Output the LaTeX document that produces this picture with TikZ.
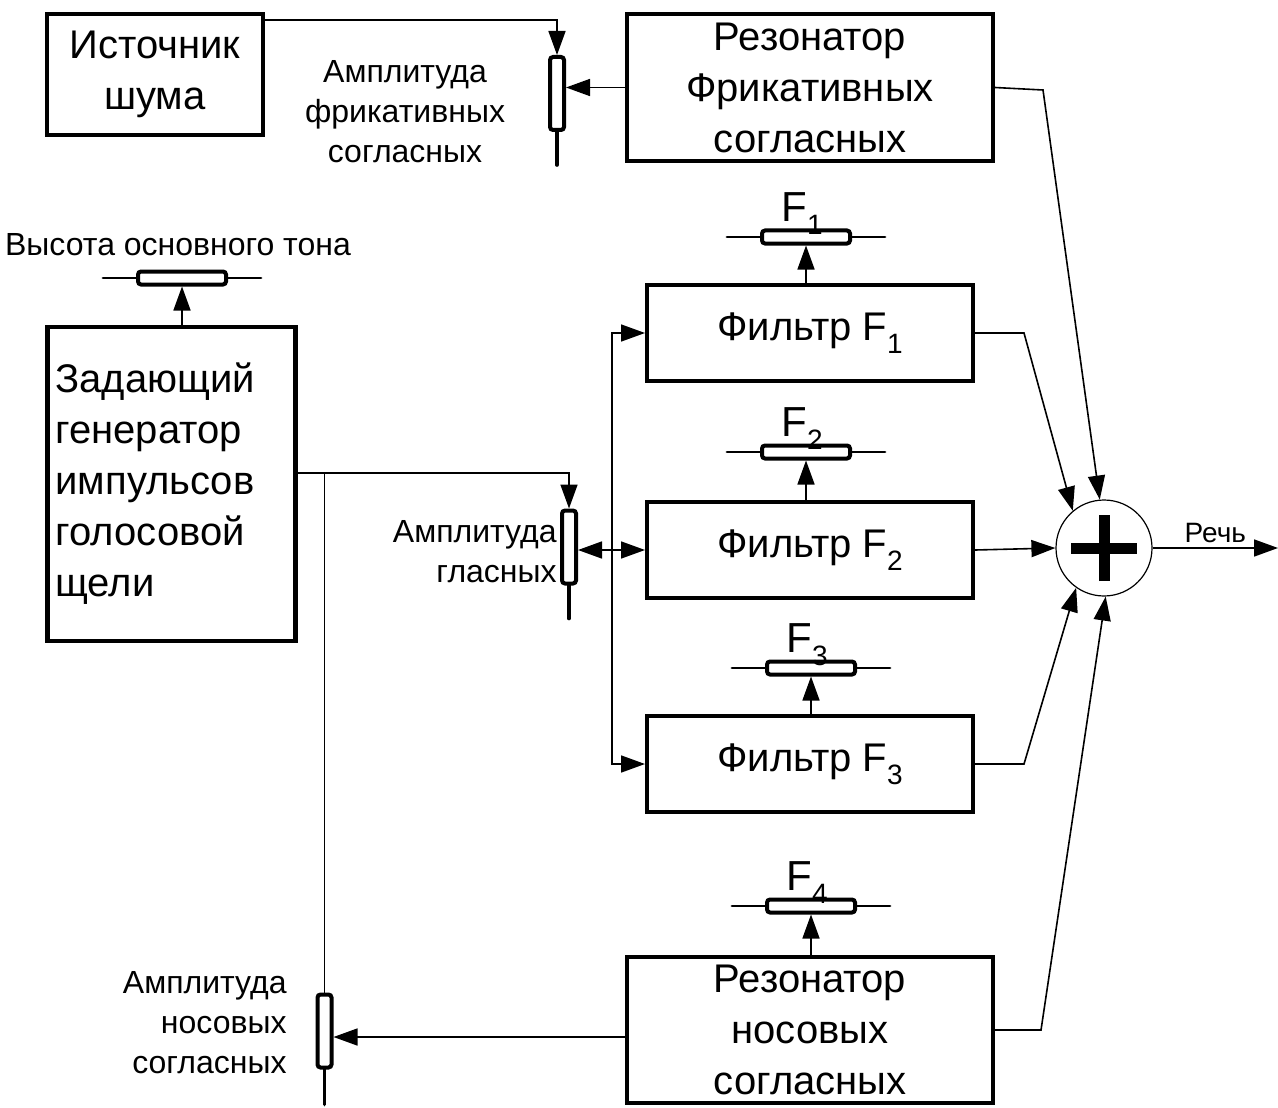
\documentclass[tikz,border=0pt]{standalone}
\usepackage{fontspec}
\setmainfont{Liberation Sans}
\usetikzlibrary{arrows.meta,positioning}
\newcommand{\subidx}[1]{\raisebox{-0.6ex}{\fontsize{14}{14}\selectfont #1}}
\tikzset{
  blockbox/.style={draw, line width=2.2pt, inner sep=3pt, align=center,
    font=\fontsize{20}{25.5}\selectfont},
  potv/.style={draw, line width=2pt, rounded corners=1.5pt, fill=white,
    inner sep=0pt, minimum width=7pt, minimum height=36.5pt},
  poth/.style={draw, line width=2pt, rounded corners=1.5pt, fill=white,
    inner sep=0pt, minimum width=44pt, minimum height=6.5pt},
  potlead/.style={line width=1.4pt, line cap=round},
  potstem/.style={line width=1.8pt, line cap=round},
  sigline/.style={line width=0.8pt},
  sigarrow/.style={line width=0.8pt, -{Triangle[length=12pt, width=8.5pt]}},
  smalllabel/.style={font=\fontsize{16}{20}\selectfont, inner sep=0pt},
  flabel/.style={font=\fontsize{21}{21}\selectfont, inner sep=0pt, anchor=base},
  adder/.style={circle, draw, line width=0.6pt, minimum size=48pt, inner sep=0pt},
}

\begin{document}
\begin{tikzpicture}[x=0.5pt, y=-0.5pt]
  \useasboundingbox[fill=white] (0,0) rectangle (1278,1107);

  % blocks
  \node[blockbox, minimum width=107.8pt, minimum height=60.3pt] (noise) at (155,74.5)
    {Источник\\шума};
  \node[blockbox, minimum width=182.8pt, minimum height=73.3pt] (fricres) at (810,87.5)
    {Резонатор\\Фрикативных\\согласных};
  \node[blockbox, align=left, inner xsep=4pt, text width=116pt, minimum height=156.8pt] (gen) at (171.5,484)
    {Задающий\\генератор\\импульсов\\голосовой\\щели};
  \node[blockbox, minimum width=162.8pt, minimum height=47.8pt] (f1) at (810,333) {Фильтр F\subidx{1}};
  \node[blockbox, minimum width=162.8pt, minimum height=47.8pt] (f2) at (810,550) {Фильтр F\subidx{2}};
  \node[blockbox, minimum width=162.8pt, minimum height=47.8pt] (f3) at (810,764) {Фильтр F\subidx{3}};
  \node[blockbox, minimum width=182.8pt, minimum height=72.8pt] (nasres) at (810,1030)
    {Резонатор\\носовых\\согласных};
  \node[adder] (sum) at (1104,548) {};
  \draw[line width=5.5pt] ([xshift=-16.5pt]sum.center) -- ([xshift=16.5pt]sum.center);
  \draw[line width=5.5pt] ([yshift=-16.5pt]sum.center) -- ([yshift=16.5pt]sum.center);

  % potentiometers
  \node[potv] (potfric) at (557,93.5) {};
  \node[potv] (potvow) at (569,547) {};
  \node[potv] (potnas) at (324.5,1031) {};
  \draw[potstem] (potfric.south) -- ++(0,33);
  \draw[potstem] (potvow.south) -- ++(0,33);
  \draw[potstem] (potnas.south) -- ++(0,35);
  \node[poth] (potpitch) at (182,278) {};
  \node[poth] (potf1) at (806,237) {};
  \node[poth] (potf2) at (806,452) {};
  \node[poth] (potf3) at (811,668) {};
  \node[poth] (potf4) at (811,906) {};
  \foreach \p in {potpitch,potf1,potf2,potf3,potf4}{
    \draw[potlead] (\p.west) -- ++(-33,0);
    \draw[potlead] (\p.east) -- ++(33,0);
  }
  \node[flabel] (lblf1) at ([xshift=-2pt, yshift=3.5pt]potf1.north) {F\subidx{1}};
  \node[flabel] (lblf2) at ([xshift=-2pt, yshift=3.5pt]potf2.north) {F\subidx{2}};
  \node[flabel] (lblf3) at ([xshift=-2pt, yshift=3.5pt]potf3.north) {F\subidx{3}};
  \node[flabel] (lblf4) at ([xshift=-2pt, yshift=3.5pt]potf4.north) {F\subidx{4}};

  % labels
  \node[smalllabel] (lblpitch) at (178,245) {Высота основного тона};
  \node[smalllabel, align=center] (lblfric) at (405,112) {Амплитуда\\фрикативных\\согласных};
  \node[smalllabel, align=right, anchor=east] (lblvow) at (557,552) {Амплитуда\\гласных};
  \node[smalllabel, align=right, anchor=east] (lblnas) at (287,1023) {Амплитуда\\носовых\\согласных};

  % control arrows
  \draw[sigarrow] (potpitch.south |- gen.north) -- (potpitch.south);
  \draw[sigarrow] (potf1.south |- f1.north) -- (potf1.south);
  \draw[sigarrow] (potf2.south |- f2.north) -- (potf2.south);
  \draw[sigarrow] (potf3.south |- f3.north) -- (potf3.south);
  \draw[sigarrow] (potf4.south |- nasres.north) -- (potf4.south);

  % signal paths
  \coordinate (noiseout) at ([yshift=-4pt]noise.north east);
  \draw[sigarrow] (noiseout) -- (noiseout -| potfric.north) -- (potfric.north);
  \draw[sigarrow] (fricres.west) -- (fricres.west -| potfric.east);
  \coordinate (genout) at ([yshift=5.5pt]gen.east);
  \coordinate (tap) at (genout -| potnas.north);
  \draw[sigarrow] (genout) -- (genout -| potvow.north) -- (potvow.north);
  \draw[sigline] (tap) -- (potnas.north);
  \draw[sigline, {Triangle[length=12pt, width=8.5pt]}-{Triangle[length=12pt, width=8.5pt]}]
    (potvow.east |- f2.west) -- (f2.west);
  \coordinate (bus) at (612,550);
  \draw[sigline, {Triangle[length=12pt, width=8.5pt]}-{Triangle[length=12pt, width=8.5pt]}]
    (f1.west) -- (bus |- f1.west) -- (bus |- f3.west) -- (f3.west);
  \coordinate (naswiper) at ([yshift=-3.5pt]nasres.west);
  \draw[sigarrow] (naswiper) -- (naswiper -| potnas.east);

  % to the adder
  \coordinate (fricbend) at (1043,90);
  \coordinate (f1bend) at (1024,333);
  \coordinate (f3bend) at (1024,764);
  \coordinate (nasbend) at (1041,1030);
  \draw[sigarrow] (fricres.east) -- (fricbend) -- (sum.95);
  \draw[sigarrow] (f1.east) -- (f1bend) -- (sum.130);
  \draw[sigarrow] (f2.east) -- (sum.west);
  \draw[sigarrow] (f3.east) -- (f3bend) -- (sum.235);
  \draw[sigarrow] (nasres.east) -- (nasbend) -- (sum.272);
  \coordinate (speechout) at (1278,548);
  \draw[sigarrow] (sum.east) -- (speechout)
    node[midway, above=2pt, font=\fontsize{14}{14}\selectfont, inner sep=0pt] (lblspeech) {Речь};
\end{tikzpicture}
\end{document}
